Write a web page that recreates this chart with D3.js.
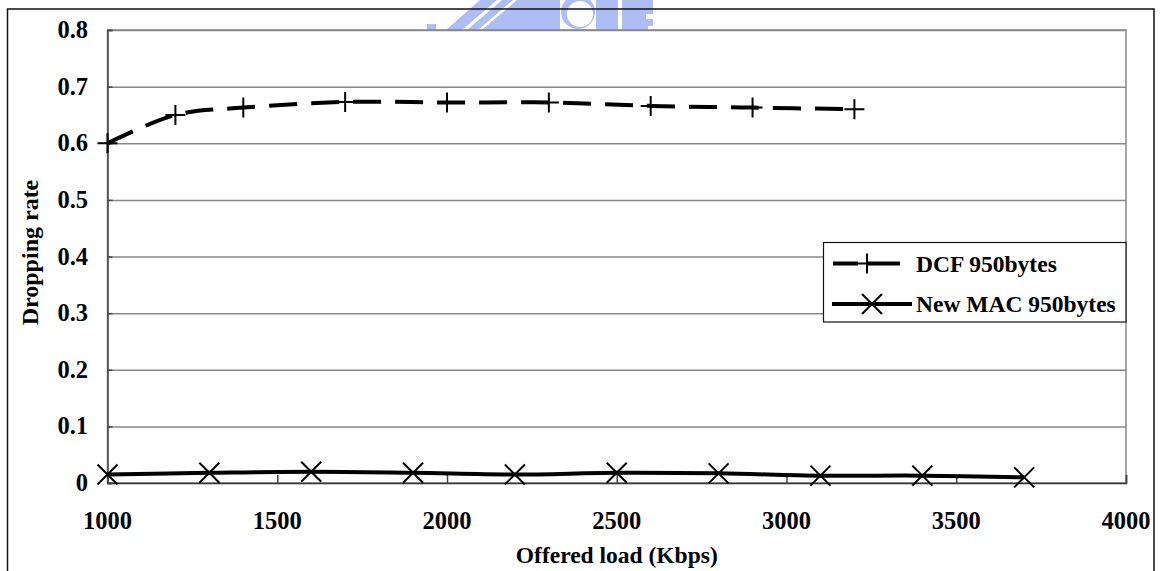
<!DOCTYPE html>
<html>
<head>
<meta charset="utf-8">
<script src="https://cdn.jsdelivr.net/npm/d3@7"></script>
<style>
  html, body { margin: 0; padding: 0; background: #fff; }
  svg { display: block; }
  text { font-family: "Liberation Serif", "Times New Roman", serif; font-weight: bold; fill: #000; }
</style>
</head>
<body>
<svg id="chart" width="1165" height="571"></svg>
<script>
// Offered load (Kbps) sampled for each MAC scheme
const dcfLoad = [1000, 1200, 1400, 1700, 2000, 2300, 2600, 2900, 3200];
const dcfDrop = [0.600, 0.650, 0.663, 0.673, 0.672, 0.672, 0.666, 0.663, 0.660];

const newMacLoad = [1000, 1300, 1600, 1900, 2200, 2500, 2800, 3100, 3400, 3700];
const newMacDrop = [0.015, 0.018, 0.020, 0.018, 0.015, 0.018, 0.017, 0.013, 0.013, 0.010];

const xTicks = [1000, 1500, 2000, 2500, 3000, 3500, 4000];
const yTicks = [0, 0.1, 0.2, 0.3, 0.4, 0.5, 0.6, 0.7, 0.8];
const yTickLabels = ["0", "0.1", "0.2", "0.3", "0.4", "0.5", "0.6", "0.7", "0.8"];

const seriesNames = ["DCF 950bytes", "New MAC 950bytes"];
const xTitle = "Offered load (Kbps)";
const yTitle = "Dropping rate";

const svg = d3.select("#chart");

// faint crest behind the top edge of the frame
const crestBlue = "#aebdf3";
const crest = svg.append("g").attr("fill", crestBlue);
crest.append("rect").attr("x", 427).attr("y", 24).attr("width", 9).attr("height", 6);
crest.append("path").attr("d", "M446,30 L480,0 L560,0 L560,30 Z");
crest.append("path").attr("d", "M596,0 L653,0 L653,30 L596,30 Z");
crest.append("path").attr("fill", "#fff")
  .attr("d", "M462,30 L497,0 L502,0 L467,30 Z M478,30 L513,0 L517,0 L482,30 Z");
crest.append("circle").attr("cx", 578).attr("cy", 12).attr("r", 17).attr("fill", crestBlue);
crest.append("circle").attr("cx", 580).attr("cy", 14).attr("r", 13).attr("fill", "#fff");
crest.append("rect").attr("x", 618).attr("y", 0).attr("width", 4).attr("height", 30).attr("fill", "#fff");
crest.append("path").attr("fill", "#fff").attr("d", "M646,14 L653,14 L653,19 L646,19 Z M648,26 L653,26 L653,30 L648,30 Z");

// outer chart frame
svg.append("rect")
  .attr("x", 7.5).attr("y", 9).attr("width", 1146.5).attr("height", 580)
  .attr("fill", "none").attr("stroke", "#111").attr("stroke-width", 1.5);

const x = d3.scaleLinear().domain([1000, 4000]).range([107.5, 1126]);
const y = d3.scaleLinear().domain([0, 0.8]).range([483, 30]);

// plot area
svg.append("rect")
  .attr("x", x(1000)).attr("y", y(0.8))
  .attr("width", x(4000) - x(1000)).attr("height", y(0) - y(0.8))
  .attr("fill", "#fff").attr("stroke", "#888").attr("stroke-width", 1.5);

// horizontal gridlines
svg.append("g")
  .attr("transform", `translate(${x(1000)},0)`)
  .call(d3.axisRight(y).tickValues(yTicks.slice(1)).tickSize(x(4000) - x(1000)).tickFormat(""))
  .call(g => g.select(".domain").remove())
  .call(g => g.selectAll("line").attr("stroke", "#888").attr("stroke-width", 1.5));

// y axis
svg.append("g")
  .attr("transform", `translate(${x(1000)},0)`)
  .call(d3.axisRight(y).tickValues(yTicks).tickSize(5).tickFormat(""))
  .call(g => g.select(".domain").attr("stroke", "#444").attr("stroke-width", 1.5))
  .call(g => g.selectAll("line").attr("stroke", "#444").attr("stroke-width", 1.5));

svg.append("g").selectAll("text")
  .data(yTicks)
  .join("text")
  .attr("x", 88)
  .attr("y", d => y(d) + 8)
  .attr("text-anchor", "end")
  .attr("font-size", 24.5)
  .text((d, i) => yTickLabels[i]);

// x axis (ticks point into the plot)
svg.append("g")
  .attr("transform", `translate(0,${y(0)})`)
  .call(d3.axisTop(x).tickValues(xTicks).tickSize(8).tickFormat(""))
  .call(g => g.select(".domain").attr("stroke", "#333").attr("stroke-width", 1.5))
  .call(g => g.selectAll("line").attr("stroke", "#444").attr("stroke-width", 1.5));

svg.append("g").selectAll("text")
  .data(xTicks)
  .join("text")
  .attr("x", d => x(d))
  .attr("y", 528.5)
  .attr("text-anchor", "middle")
  .attr("font-size", 24.5)
  .text(d => d);

// axis titles
svg.append("text")
  .attr("x", (x(1000) + x(4000)) / 2).attr("y", 563)
  .attr("text-anchor", "middle").attr("font-size", 23.5)
  .text(xTitle);

svg.append("text")
  .attr("transform", `translate(38,${(y(0) + y(0.8)) / 2 - 4}) rotate(-90)`)
  .attr("text-anchor", "middle").attr("font-size", 24)
  .text(yTitle);

// series
const smooth = d3.line().curve(d3.curveCatmullRom.alpha(0.5));

const dcfPts = dcfLoad.map((v, i) => [x(v), y(dcfDrop[i])]);
const macPts = newMacLoad.map((v, i) => [x(v), y(newMacDrop[i])]);

svg.append("path")
  .attr("d", smooth(dcfPts))
  .attr("fill", "none").attr("stroke", "#000").attr("stroke-width", 4)
  .attr("stroke-dasharray", "28,14");

svg.append("path")
  .attr("d", smooth(macPts))
  .attr("fill", "none").attr("stroke", "#000").attr("stroke-width", 4);

function drawPlus(g, cx, cy) {
  g.append("path")
    .attr("d", `M${cx - 10},${cy}H${cx + 10}M${cx},${cy - 10}V${cy + 10}`)
    .attr("fill", "none").attr("stroke", "#000").attr("stroke-width", 2);
}
function drawCross(g, cx, cy) {
  g.append("path")
    .attr("d", `M${cx - 10},${cy - 10}L${cx + 10},${cy + 10}M${cx - 10},${cy + 10}L${cx + 10},${cy - 10}`)
    .attr("fill", "none").attr("stroke", "#000").attr("stroke-width", 2);
}

const markers = svg.append("g");
dcfPts.forEach(p => drawPlus(markers, p[0], p[1]));
macPts.forEach(p => drawCross(markers, p[0], p[1]));

// legend
const legend = svg.append("g");
legend.append("rect")
  .attr("x", 823.5).attr("y", 242.5).attr("width", x(4000) - 823.5).attr("height", 79.5)
  .attr("fill", "#fff").attr("stroke", "#111").attr("stroke-width", 1.2);

legend.append("path")
  .attr("d", "M833,263.5H900")
  .attr("stroke", "#000").attr("stroke-width", 4).attr("stroke-dasharray", "25,10,32");
drawPlus(legend, 867, 263.5);
legend.append("text").attr("x", 916).attr("y", 272).attr("font-size", 23.5).text(seriesNames[0]);

legend.append("path")
  .attr("d", "M832,304H912")
  .attr("stroke", "#000").attr("stroke-width", 4);
drawCross(legend, 872, 304);
legend.append("text").attr("x", 916).attr("y", 312).attr("font-size", 23.5).text(seriesNames[1]);
</script>
</body>
</html>
